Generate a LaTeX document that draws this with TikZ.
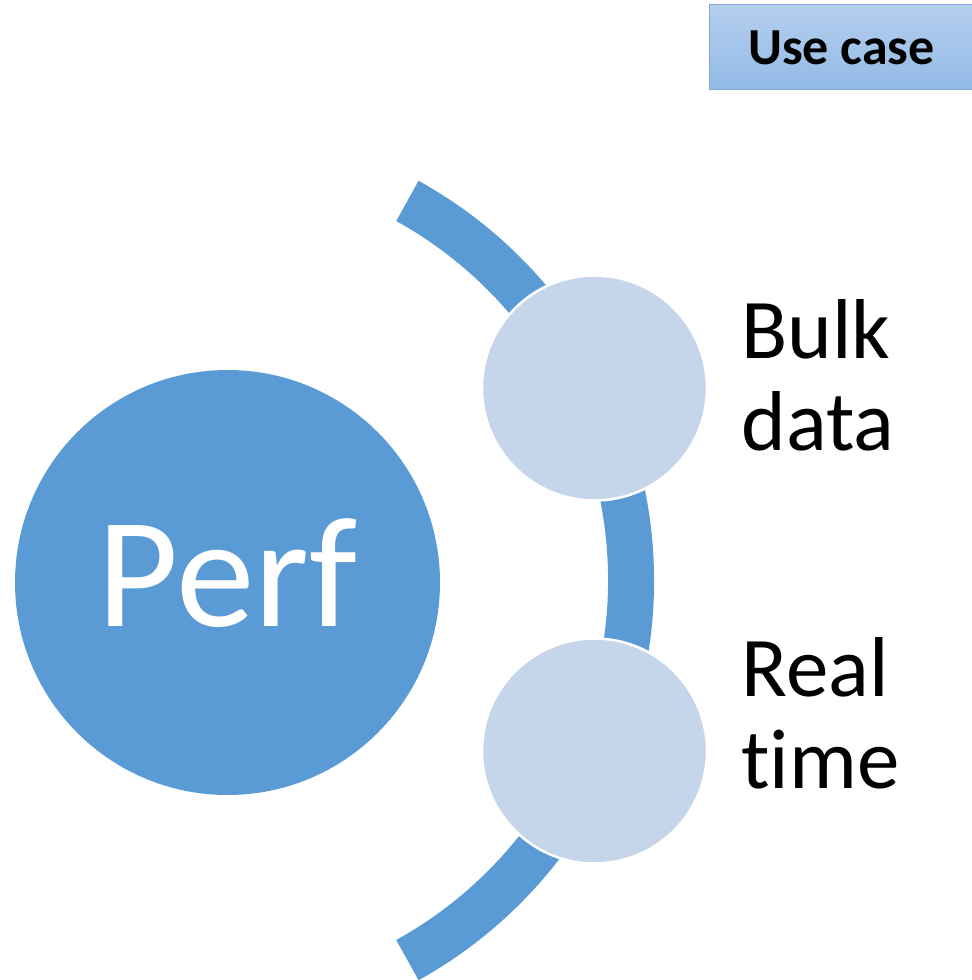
\documentclass[tikz,border=0pt]{standalone}
\usepackage{fontspec}
\setmainfont{Carlito}[Ligatures=NoCommon]
\usetikzlibrary{positioning}

\definecolor{perfblue}{RGB}{91,155,213}
\definecolor{palecircle}{RGB}{197,213,234}
\definecolor{boxtop}{RGB}{181,207,238}
\definecolor{boxbottom}{RGB}{146,185,230}
\definecolor{boxline}{RGB}{125,167,217}

\tikzset{every picture/.style={line width=0.75pt}}

\begin{document}
\begin{tikzpicture}[x=0.75pt,y=0.75pt,yscale=-1,xscale=1,
  hubcircle/.style={circle,fill=perfblue,inner sep=0pt,minimum size=318.75pt,
    text=white,font=\fontsize{118}{120}\selectfont,text height=66pt,text depth=0pt},
  casecircle/.style={circle,fill=palecircle,draw=white,line width=1.9pt,inner sep=0pt,minimum size=168.75pt},
  caselabel/.style={anchor=base west,align=left,inner sep=0pt,font=\fontsize{63.75}{69}\selectfont},
  usebox/.style={rectangle,top color=boxtop,bottom color=boxbottom,draw=boxline,line width=0.75pt,
    minimum width=198.75pt,minimum height=63.75pt,inner sep=0pt,font=\fontsize{39}{42}\selectfont\bfseries}]
\useasboundingbox (0,0) rectangle (971,980);

%Shape: Arc
\coordinate (hub) at (197,580.5);
\fill[perfblue] (hub) ++(-61:457) arc (-61:61:457) -- ++(61:-46) arc (61:-61:411) -- cycle;

%Shape: Circle
\node[casecircle] (bulk) at (594.5,388) {};
%Shape: Circle
\node[casecircle] (realtime) at (594.5,751) {};
%Shape: Circle
\node[hubcircle] (perf) at (227.5,582.5) {Perf};

% Text Node
\node[caselabel] (bulklabel) at (741,450) {Bulk\\data};
% Text Node
\node[caselabel] (realtimelabel) at (741,788.3) {Real\\time};
% Text Node
\node[usebox] (usecase) at (841.5,47.5) {Use case};

\end{tikzpicture}
\end{document}
